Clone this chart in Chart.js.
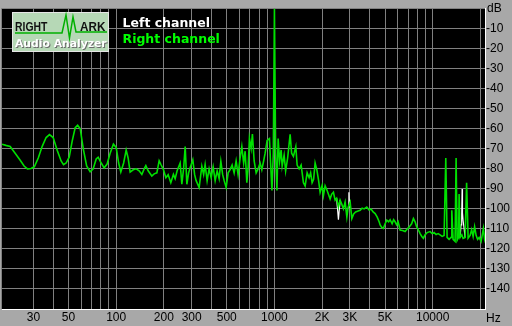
<!DOCTYPE html>
<html>
<head>
<meta charset="utf-8">
<script src="https://cdn.jsdelivr.net/npm/chart.js@4.4.1/dist/chart.umd.min.js"></script>
<style>
  html, body { margin: 0; padding: 0; background: #a8a8a8; }
  canvas { display: block; }
</style>
</head>
<body>
<canvas id="spectrum" width="512" height="326"></canvas>
<script>
// spectrum (Hz / dB)
const freqHz = [
  19, 20.1, 21.4, 23.0, 24.7, 26.2, 27.5, 29.0, 30.4, 32.2,
  34.1, 36.1, 37.9, 40.0, 42.4, 44.9, 46.5, 48.3, 50.5, 52.7,
  55.1, 57.1, 59.3, 61.9, 65.1, 68.5, 71.6, 74.8, 77.0, 80.4,
  84, 87.7, 91.6, 96.1, 100, 103.7, 107, 111.5, 115.7, 119,
  122.6, 128.1, 133.8, 139.7, 145.3, 150.3, 154, 159.3, 168, 173.8,
  180.8, 186.9, 192.4, 199, 206, 213.1, 221.5, 230, 235.9, 242.8,
  253.7, 260, 267, 273, 279.7, 287, 293.4, 305, 313.2, 320.1,
  334.5, 347.8, 357, 364.9, 375.6, 386.7, 398.2, 410.1, 422.2, 434.6,
  447.4, 458.6, 470.9, 481.3, 495.3, 510, 525, 540.4, 556.4, 572.8,
  589.7, 607.1, 622.3, 639, 653, 669.3, 682.2, 695, 712.6, 726,
  744.5, 766.4, 788.9, 812.2, 832.5, 854.6, 873.5, 899.2, 929.8, 946,
  964.3, 984, 1000, 1017.6, 1037, 1055.4, 1078.7, 1102.4, 1118.6, 1151.6,
  1177, 1211.8, 1256.6, 1284, 1318, 1365, 1391, 1432, 1474.7, 1525,
  1563, 1609, 1656, 1693, 1730, 1768, 1807.6, 1852.6, 1901.8, 1944,
  2001, 2039.5, 2090.5, 2152, 2248.5, 2298, 2359, 2418.6, 2472, 2537,
  2600, 2677, 2729, 2797, 2868, 2922.6, 3008.7, 3083.8, 3165.6, 3258.6,
  3379, 3479, 3581, 3687, 3834, 3964, 4081, 4203, 4327, 4454,
  4587, 4654.6, 4770.8, 4883, 5005, 5128.6, 5265, 5382, 5541, 5662,
  5788, 5916, 6045, 6224, 6455, 6693, 6941, 7146, 7357, 7553,
  7743, 7913, 8123, 8326, 8534, 8735, 8954, 9218, 9629, 9913,
  10205, 10507, 10817, 11136, 11468, 11803, 12097, 12330, 12694, 13068,
  13200, 13455, 13850, 14054, 14260, 14575, 14683, 14897, 15273, 15564,
  16024, 16378, 16740, 17234, 17615, 18004, 18400, 18804, 19220, 19643,
  20220, 20910, 21280, 21590
];
const rightDb = [
  -67.8, -68.4, -69.0, -72.3, -75.7, -78.7, -80.1, -79.9, -79.1, -74.7,
  -68.9, -64.5, -63.0, -64.5, -70.8, -76.2, -78.0, -77.2, -74.3, -66.4,
  -59.6, -58.4, -60.1, -69.9, -78.7, -81.6, -80.1, -75.2, -74.3, -77.2,
  -79.6, -77.7, -72.3, -67.8, -69.4, -77.2, -81.7, -77.2, -70.7, -74.7,
  -81.7, -80.6, -80.1, -81.1, -82.9, -80.1, -78.5, -81.1, -83.7, -82.6,
  -82.1, -76.1, -78.2, -80.5, -84.5, -83.0, -87.0, -82.9, -85.0, -81.1,
  -77.2, -87.8, -79.6, -69.0, -87.8, -82.1, -79.6, -75.6, -83.0, -86.0,
  -89.4, -78.8, -83.0, -78.0, -86.0, -80.1, -84.5, -79.1, -86.0, -81.1,
  -85.0, -76.4, -83.0, -86.0, -89.4, -82.1, -80.5, -78.2, -82.1, -76.2,
  -83.0, -74.7, -69.0, -77.2, -71.3, -87.0, -79.6, -65.0, -69.9, -62.8,
  -76.2, -82.1, -80.1, -77.2, -80.5, -76.2, -72.3, -65.9, -65.0, -77.2,
  -90.9, -72.3, -0.3, -72.3, -90.9, -65.0, -76.2, -70.7, -78.8, -73.3,
  -81.2, -74.7, -62.9, -72.3, -73.9, -69.0, -78.2, -80.1, -78.2, -87.0,
  -88.6, -82.1, -84.5, -82.1, -87.0, -85.3, -77.2, -80.5, -86.0, -91.8,
  -88.4, -93.5, -88.6, -90.9, -95.1, -92.8, -91.8, -95.7, -94.8, -99.2,
  -95.7, -98.2, -100.0, -96.7, -104.1, -99.2, -96.7, -104.9, -102.6, -101.6,
  -101.1, -100.8, -99.7, -100.1, -99.2, -100.6, -100.1, -101.6, -102.4, -104.1,
  -106.5, -108.1, -109.4, -109.8, -107.5, -105.7, -106.5, -105.5, -107.5, -105.5,
  -106.5, -108.0, -106.5, -110.6, -110.9, -111.4, -109.9, -108.9, -107.5, -104.9,
  -106.5, -108.9, -110.6, -112.4, -113.8, -114.7, -112.9, -111.9, -111.4, -112.4,
  -111.9, -112.9, -112.4, -113.0, -113.8, -113.3, -74.7, -114.3, -115.3, -114.3,
  -100.8, -115.3, -116.3, -74.7, -115.8, -114.3, -92.7, -114.3, -113.0, -114.8,
  -114.3, -87.0, -114.7, -113.3, -110.4, -113.8, -109.0, -113.3, -115.3, -114.3,
  -116.3, -109.8, -115.3, -117.1
];
// left channel only shows where it departs from the right one
const leftFreqHz = [2472, 2537, 2600, 2700, 2922.6, 2955, 2975, 3008.7, 3050,
  14897, 15100, 15250, 15337, 15420, 15564, 15800, 16024];
const leftDb = [-94.8, -105.5, -95.7, null, -99.2, -91.8, -97.6, -96.7, null,
  -114.3, -108.0, -102.5, -90.2, -102.0, -106.0, -110.0, -114.3];

const gridHz = [30, 40, 50, 60, 70, 80, 90, 100, 200, 300, 400, 500, 600, 700, 800, 900,
  1000, 2000, 3000, 4000, 5000, 6000, 7000, 8000, 9000, 10000, 20000];
const labelHz = [30, 50, 100, 200, 300, 500, 1000, 2000, 3000, 5000, 10000];
const labelText = ["30", "50", "100", "200", "300", "500", "1000", "2K", "3K", "5K", "10000"];
const seriesNames = ["Left channel", "Right channel"];

const tickFont = { family: "'Liberation Sans', Arial, sans-serif", size: 12 };

const toPoints = (xs, ys) => xs.map((x, i) => ({ x: x, y: ys[i] }));

// text squeezed horizontally, the logo uses a narrow face
function narrowText(c, text, x, y, sx) {
  c.save();
  c.translate(x, y);
  c.scale(sx, 1);
  c.fillText(text, 0, 0);
  c.restore();
}

const frame = {
  id: "frame",
  beforeDraw(chart) {
    const c = chart.ctx, a = chart.chartArea;
    c.save();
    c.fillStyle = "#a8a8a8";
    c.fillRect(0, 0, chart.width, chart.height);
    c.fillStyle = "#000000";
    c.fillRect(a.left, a.top, a.right - a.left, a.bottom - a.top);
    c.restore();
  },
  afterDraw(chart) {
    const c = chart.ctx, a = chart.chartArea;
    c.save();
    // left edge
    c.strokeStyle = "#808080";
    c.lineWidth = 1;
    c.beginPath();
    c.moveTo(a.left - 0.5, a.top);
    c.lineTo(a.left - 0.5, a.bottom);
    c.stroke();

    // RightMark logo
    c.fillStyle = "#b6d8b6";
    c.fillRect(12, 12, 97, 40);
    c.strokeStyle = "#e6e6e6";
    c.strokeRect(12.5, 12.5, 96, 39);
    c.strokeStyle = "#00b000";
    c.lineWidth = 1.5;
    c.beginPath();
    c.moveTo(15, 33); c.lineTo(62, 33); c.lineTo(66, 15); c.lineTo(69.5, 38);
    c.lineTo(73, 17); c.lineTo(76, 32); c.lineTo(107, 32);
    c.stroke();
    c.fillStyle = "#111111";
    c.font = "bold 13px 'Liberation Sans'";
    narrowText(c, "RIGHT", 15, 31, 0.8);
    narrowText(c, "ARK", 80, 31, 0.9);
    c.font = "bold 10.8px 'DejaVu Sans'";
    c.fillStyle = "#6a6a6a";
    c.fillText("Audio Analyzer", 16, 48);
    c.fillStyle = "#ffffff";
    c.fillText("Audio Analyzer", 15, 47);

    // legend
    c.font = "bold 12.5px 'DejaVu Sans'";
    c.fillStyle = "#ffffff";
    c.fillText(seriesNames[0], 122.5, 27);
    c.fillStyle = "#00ff00";
    c.fillText(seriesNames[1], 122.5, 42.5);

    // unit labels
    c.fillStyle = "#000000";
    c.font = "12px " + tickFont.family;
    c.fillText("dB", 487, 12);
    c.fillText("Hz", 486, 322);
    c.restore();
  }
};

const chart = new Chart(document.getElementById("spectrum"), {
  type: "line",
  data: {
    datasets: [
      {
        label: seriesNames[1],
        data: toPoints(freqHz, rightDb),
        borderColor: "#00e000",
        borderWidth: 1.6,
        pointRadius: 0,
        tension: 0,
      },
      {
        label: seriesNames[0],
        data: toPoints(leftFreqHz, leftDb),
        borderColor: "#ffffff",
        borderWidth: 1.2,
        pointRadius: 0,
        tension: 0,
        spanGaps: false,
      },
    ],
  },
  options: {
    responsive: false,
    animation: false,
    devicePixelRatio: 1,
    layout: { padding: { left: 2, top: 2, right: 0, bottom: 0 } },
    plugins: { legend: { display: false }, tooltip: { enabled: false } },
    scales: {
      x: {
        type: "logarithmic",
        min: 19,
        max: 21400,
        afterBuildTicks: (s) => { s.ticks = gridHz.map((v) => ({ value: v })); },
        afterFit: (s) => { s.height = 17; },
        grid: { color: "#808080", drawTicks: false },
        border: { color: "#ffffff", width: 1 },
        ticks: {
          autoSkip: false,
          maxRotation: 0,
          padding: 1,
          color: "#000000",
          font: tickFont,
          callback: function (value) {
            const i = labelHz.indexOf(value);
            return i >= 0 ? labelText[i] : "";
          },
        },
      },
      y: {
        position: "right",
        min: -150,
        max: 0,
        afterFit: (s) => { s.width = 27; },
        grid: { color: "#808080", drawTicks: false },
        border: { color: "#ffffff", width: 1 },
        ticks: {
          stepSize: 10,
          padding: 1,
          color: "#000000",
          font: tickFont,
          callback: function (value) {
            return value === 0 || value === -150 ? "" : String(value);
          },
        },
      },
    },
  },
  plugins: [frame],
});
</script>
</body>
</html>
